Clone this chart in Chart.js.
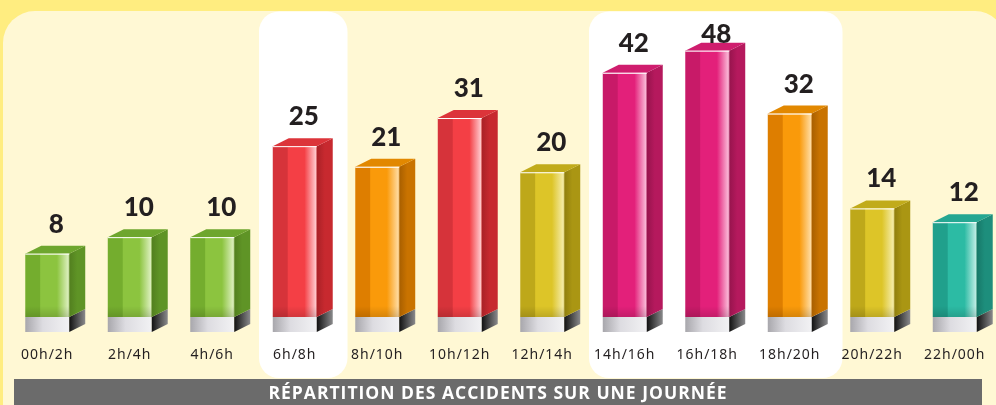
<!DOCTYPE html>
<html>
<head>
<meta charset="utf-8">
<script src="https://cdn.jsdelivr.net/npm/chart.js@4"></script>
<style>
  html, body { margin: 0; padding: 0; background: #ffed80; }
  #wrap { width: 996px; height: 405px; }
</style>
</head>
<body>
<div id="wrap"><canvas id="myChart" width="996" height="405"></canvas></div>
<script>
// data
const hours = ['00h/2h', '2h/4h', '4h/6h', '6h/8h', '8h/10h', '10h/12h', '12h/14h', '14h/16h', '16h/18h', '18h/20h', '20h/22h', '22h/00h'];
const accidents = [8, 10, 10, 25, 21, 31, 20, 42, 48, 32, 14, 12];
const barColors = ['green', 'green', 'green', 'red', 'orange', 'red', 'yellow', 'magenta', 'magenta', 'orange', 'yellow', 'teal'];
const highlighted = ['6h/8h', '14h/16h', '16h/18h', '18h/20h'];
const chartTitle = 'RÉPARTITION DES ACCIDENTS SUR UNE JOURNÉE';
const yMin = 2.4, yMax = 61;

const palette = {
    green:   { dark: '#74ad2e', mid: '#8cc43f', light: '#dcefbd', side: '#5f9426', sideDark: '#527f1f', top: '#6ea62e' },
    red:     { dark: '#d6333a', mid: '#f43f45', light: '#ffc9cd', side: '#c7292f', sideDark: '#a92127', top: '#dc343a' },
    orange:  { dark: '#de7e00', mid: '#fa9a0a', light: '#ffdca2', side: '#c97300', sideDark: '#a85f00', top: '#e28800' },
    yellow:  { dark: '#bea81a', mid: '#ddc528', light: '#f5eca8', side: '#aa9613', sideDark: '#8f7e0e', top: '#c1ab1b' },
    magenta: { dark: '#c81a68', mid: '#e3207a', light: '#fab9d7', side: '#b5195d', sideDark: '#97144d', top: '#cf1d6e' },
    teal:    { dark: '#20a08c', mid: '#2cbba4', light: '#bdece4', side: '#1d8e7c', sideDark: '#177868', top: '#25a792' }
};

// square-root value axis, the bars of the picture are not proportional
class SqrtScale extends Chart.LinearScale {
    getPixelForValue(value) {
        const a = Math.sqrt(this.min), b = Math.sqrt(this.max);
        return this.getPixelForDecimal((Math.sqrt(Math.max(value, 0)) - a) / (b - a));
    }
    getValueForPixel(pixel) {
        const a = Math.sqrt(this.min), b = Math.sqrt(this.max);
        const s = a + this.getDecimalForPixel(pixel) * (b - a);
        return s * s;
    }
}
SqrtScale.id = 'sqrt';
SqrtScale.defaults = Chart.LinearScale.defaults;
Chart.register(SqrtScale);

const DX = 16, DY = 8, PLATFORM = 15;

const backdrop = {
    id: 'backdrop',
    beforeDraw(chart) {
        const ctx = chart.ctx;
        const w = chart.width, h = chart.height;
        const x = chart.scales.x;
        ctx.save();
        ctx.fillStyle = '#ffed80';
        ctx.fillRect(0, 0, w, h);
        // cream panel
        ctx.fillStyle = '#fff8d4';
        ctx.beginPath();
        ctx.roundRect(3, 11, 1002, 440, [32, 30, 0, 0]);
        ctx.fill();
        // white highlight columns
        const step = x.width / hours.length;
        let groups = [];
        hours.forEach((h, i) => {
            if (!highlighted.includes(h)) return;
            const g = groups[groups.length - 1];
            if (g && g[1] === i - 1) g[1] = i; else groups.push([i, i]);
        });
        ctx.fillStyle = '#ffffff';
        groups.forEach(g => {
            const left = x.getPixelForValue(g[0]) - step / 2 + 5.5;
            const right = x.getPixelForValue(g[1]) + step / 2 + 11.5;
            ctx.beginPath();
            ctx.roundRect(left, 11.5, right - left, 366.5, 20);
            ctx.fill();
        });
        // title band
        ctx.fillStyle = '#6b6b6b';
        ctx.fillRect(14, 379, w - 28, h - 379);
        ctx.restore();
        ctx.letterSpacing = '1px';
    },
    beforeDatasetsDraw(chart) {
        chart.ctx.letterSpacing = '0px';
    },
    afterDatasetsDraw(chart) {
        const ctx = chart.ctx;
        const meta = chart.getDatasetMeta(0);
        ctx.save();
        meta.data.forEach((bar, i) => {
            const c = palette[barColors[i]];
            const w = bar.width;
            const x0 = bar.x - w / 2, x1 = bar.x + w / 2;
            const top = bar.y, base = bar.base;

            // platform
            let g = ctx.createLinearGradient(x0, 0, x1, 0);
            g.addColorStop(0, '#a8a7ac');
            g.addColorStop(0.4, '#dddce1');
            g.addColorStop(1, '#f2f2f4');
            ctx.fillStyle = g;
            ctx.fillRect(x0, base, w, PLATFORM);
            g = ctx.createLinearGradient(x1, 0, x1 + DX, 0);
            g.addColorStop(0, '#111111');
            g.addColorStop(1, '#8a8a8c');
            ctx.fillStyle = g;
            ctx.beginPath();
            ctx.moveTo(x1, base);
            ctx.lineTo(x1 + DX, base - DY);
            ctx.lineTo(x1 + DX, base - DY + PLATFORM);
            ctx.lineTo(x1, base + PLATFORM);
            ctx.closePath();
            ctx.fill();

            // side face
            g = ctx.createLinearGradient(x1, 0, x1 + DX, 0);
            g.addColorStop(0, c.sideDark);
            g.addColorStop(0.5, c.side);
            g.addColorStop(1, c.side);
            ctx.fillStyle = g;
            ctx.beginPath();
            ctx.moveTo(x1, top);
            ctx.lineTo(x1 + DX, top - DY);
            ctx.lineTo(x1 + DX, base - DY);
            ctx.lineTo(x1, base);
            ctx.closePath();
            ctx.fill();

            // top face
            ctx.fillStyle = c.top;
            ctx.beginPath();
            ctx.moveTo(x0, top);
            ctx.lineTo(x0 + DX, top - DY);
            ctx.lineTo(x1 + DX, top - DY);
            ctx.lineTo(x1, top);
            ctx.closePath();
            ctx.fill();

            // front face
            g = ctx.createLinearGradient(x0, 0, x1, 0);
            g.addColorStop(0, c.dark);
            g.addColorStop(0.33, c.dark);
            g.addColorStop(0.35, c.mid);
            g.addColorStop(0.72, c.mid);
            g.addColorStop(0.98, c.light);
            g.addColorStop(1, c.side);
            ctx.fillStyle = g;
            ctx.fillRect(x0, top, w, base - top);
            g = ctx.createLinearGradient(0, base - 11, 0, base);
            g.addColorStop(0, 'rgba(0,0,0,0)');
            g.addColorStop(1, 'rgba(0,0,0,0.14)');
            ctx.fillStyle = g;
            ctx.fillRect(x0, base - 11, w, 11);
            ctx.strokeStyle = '#ffffff';
            ctx.lineWidth = 1;
            ctx.beginPath();
            ctx.moveTo(x0, top + 0.5);
            ctx.lineTo(x1, top + 0.5);
            ctx.stroke();

            // value label
            ctx.fillStyle = '#231f20';
            ctx.font = '900 26px Lato';
            ctx.textAlign = 'center';
            ctx.textBaseline = 'alphabetic';
            const ly = Math.max(top - 21, chart.chartArea.top + 36);
            ctx.fillText(String(accidents[i]), bar.x + 9, ly);
        });
        ctx.restore();
    }
};

new Chart(document.getElementById('myChart'), {
    type: 'bar',
    data: {
        labels: hours,
        datasets: [{
            label: 'accidents',
            data: accidents,
            base: yMin,
            backgroundColor: 'rgba(0,0,0,0)',
            borderWidth: 0,
            barPercentage: 0.533,
            categoryPercentage: 1
        }]
    },
    options: {
        responsive: false,
        animation: false,
        layout: { padding: { left: 0, right: 0, top: 7, bottom: 0 } },
        plugins: {
            legend: { display: false },
            tooltip: { enabled: false },
            title: {
                display: true,
                text: chartTitle,
                position: 'bottom',
                color: '#ffffff',
                font: { family: 'Open Sans', size: 17.5, weight: 'bold' },
                padding: { top: 20, bottom: 0 }
            }
        },
        scales: {
            x: {
                grid: { display: false, drawTicks: false },
                border: { display: false },
                afterFit(scale) {
                    scale.height = 47;
                    scale.paddingLeft = 6;
                    scale.paddingRight = 0;
                },
                ticks: {
                    color: '#231f20',
                    font: { family: 'Noto Sans', size: 14 },
                    padding: 30,
                    maxRotation: 0,
                    autoSkip: false
                }
            },
            y: {
                type: 'sqrt',
                min: yMin,
                max: yMax,
                display: false
            }
        }
    },
    plugins: [backdrop]
});
</script>
</body>
</html>
